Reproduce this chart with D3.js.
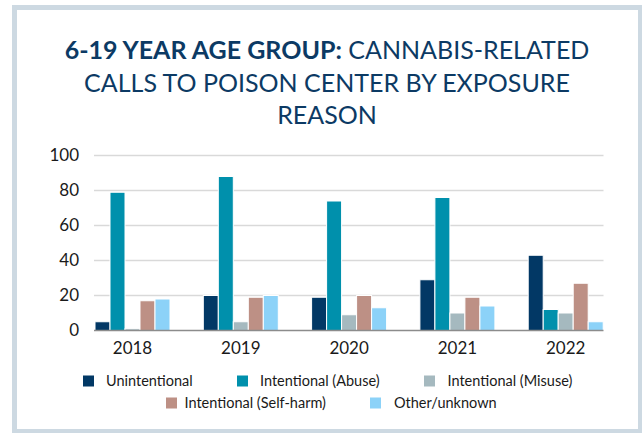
<!DOCTYPE html>
<html>
<head>
<meta charset="utf-8">
<script src="https://cdn.jsdelivr.net/npm/d3@7"></script>
<style>
  html, body { margin: 0; padding: 0; background: #ffffff; }
  svg { display: block; }
  text { font-family: Lato, "Open Sans", "Liberation Sans", sans-serif; }
</style>
</head>
<body>
<svg id="chart" width="642" height="433"></svg>
<script>
// Calls by exposure reason, ages 6-19
const years = ["2018", "2019", "2020", "2021", "2022"];
const seriesNames = ["Unintentional", "Intentional (Abuse)", "Intentional (Misuse)", "Intentional (Self-harm)", "Other/unknown"];
const unintentional = [5, 20, 19, 29, 43];
const abuse = [79, 88, 74, 76, 12];
const misuse = [1, 5, 9, 10, 10];
const selfHarm = [17, 19, 20, 19, 27];
const otherUnknown = [18, 20, 13, 14, 5];
const yTicks = [0, 20, 40, 60, 80, 100];
const colors = ["#023865", "#0090ac", "#a5b9bf", "#bd9085", "#8cd2f8"];

const seriesValues = [unintentional, abuse, misuse, selfHarm, otherUnknown];

const svg = d3.select("#chart");

// outer frame
svg.append("rect")
  .attr("x", 14.5).attr("y", 7.5)
  .attr("width", 626).attr("height", 424)
  .attr("fill", "#ffffff")
  .attr("stroke", "#cdd9e2")
  .attr("stroke-width", 5);

// title
const title = svg.append("text")
  .attr("text-anchor", "middle")
  .attr("fill", "#0c3a64")
  .attr("font-size", 25);
const t1 = title.append("tspan").attr("x", 327).attr("y", 59);
t1.append("tspan").attr("font-weight", 700).text("6-19 YEAR AGE GROUP:");
t1.append("tspan").text(" CANNABIS-RELATED");
title.append("tspan").attr("x", 327).attr("y", 91.5).text("CALLS TO POISON CENTER BY EXPOSURE");
title.append("tspan").attr("x", 327).attr("y", 124).text("REASON");

// scales
const x = d3.scaleBand().domain(years).range([78.35, 619.85]).paddingInner(0.3075).paddingOuter(0.15375);
const xs = d3.scaleBand().domain(seriesNames).range([0, x.bandwidth()]).padding(0);
const y = d3.scaleLinear().domain([0, 100]).range([330.5, 155.5]);
const gridX0 = 94, gridX1 = 603.5;

// gridlines
svg.append("g").selectAll("line")
  .data(yTicks.filter(d => d > 0))
  .join("line")
  .attr("x1", gridX0).attr("x2", gridX1)
  .attr("y1", d => y(d)).attr("y2", d => y(d))
  .attr("stroke", "#d9d9d9").attr("stroke-width", 1.5);

// y axis labels
const yAxis = svg.append("g")
  .attr("transform", `translate(${gridX0},0)`)
  .call(d3.axisLeft(y).tickValues(yTicks).tickSize(0).tickPadding(15));
yAxis.select(".domain").remove();
yAxis.selectAll("text")
  .attr("font-family", "Lato, 'Open Sans', sans-serif")
  .attr("font-size", 17).attr("fill", "#1a1a1a");

// bars
const groups = svg.append("g").selectAll("g")
  .data(years)
  .join("g")
  .attr("transform", d => `translate(${x(d)},0)`);

groups.selectAll("rect")
  .data((yr, i) => seriesNames.map((s, j) => ({ s, v: seriesValues[j][i], c: colors[j] })))
  .join("rect")
  .attr("x", d => xs(d.s))
  .attr("width", xs.bandwidth())
  .attr("y", d => y(d.v))
  .attr("height", d => y(0) - y(d.v))
  .attr("fill", d => d.c)
  .attr("stroke", "#ffffff")
  .attr("stroke-width", 1);

// baseline
svg.append("line")
  .attr("x1", gridX0).attr("x2", gridX1)
  .attr("y1", y(0)).attr("y2", y(0))
  .attr("stroke", "#8c8c8c").attr("stroke-width", 1.5);

// x axis labels
const xAxis = svg.append("g")
  .attr("transform", `translate(0,${y(0)})`)
  .call(d3.axisBottom(x).tickSize(0).tickPadding(11));
xAxis.select(".domain").remove();
xAxis.selectAll("text")
  .attr("font-family", "Lato, 'Open Sans', sans-serif")
  .attr("font-size", 17).attr("fill", "#1a1a1a");

// legend
const legendItems = [
  { i: 0, sx: 83, tx: 106, y: 381 },
  { i: 1, sx: 237, tx: 260, y: 381 },
  { i: 2, sx: 424, tx: 447.5, y: 381 },
  { i: 3, sx: 166, tx: 184.5, y: 403 },
  { i: 4, sx: 370, tx: 394, y: 403 }
];
const legend = svg.append("g").selectAll("g")
  .data(legendItems)
  .join("g");
legend.append("rect")
  .attr("x", d => d.sx).attr("y", d => d.y - 5.5)
  .attr("width", 11).attr("height", 11)
  .attr("fill", d => colors[d.i]);
legend.append("text")
  .attr("x", d => d.tx).attr("y", d => d.y)
  .attr("dy", "0.35em")
  .attr("font-size", 14.5).attr("fill", "#1a1a1a")
  .text(d => seriesNames[d.i]);
</script>
</body>
</html>
